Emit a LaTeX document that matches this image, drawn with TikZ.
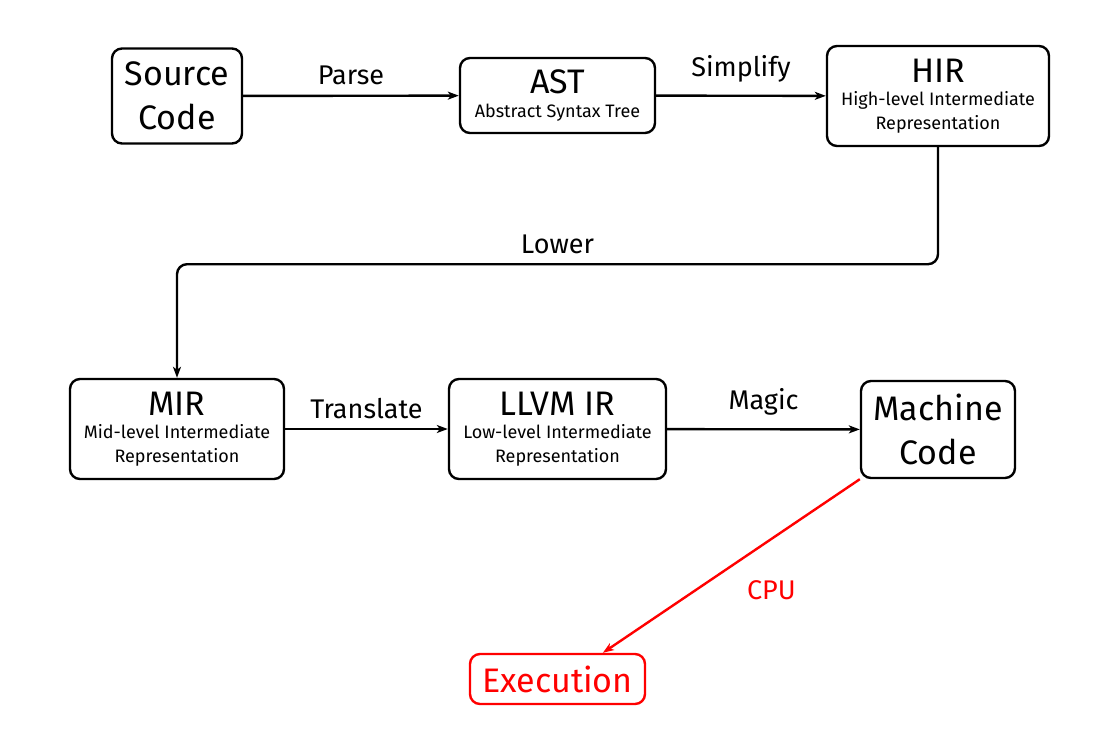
\documentclass[tikz,border=0pt]{standalone}
\usepackage{fontspec}
\setmainfont{Fira Sans}
\usetikzlibrary{arrows.meta}
\newcommand\titlesize{\fontsize{34}{44}\selectfont}
\newcommand\labelsize{\fontsize{27}{32}\selectfont}
\newcommand\subsize{\fontsize{18}{23.5}\selectfont}
\begin{document}
\begin{tikzpicture}[x=1pt, y=-1pt, line width=2.4pt,
  stage/.style={draw, rounded corners=10pt, align=center, inner sep=0pt},
  twoline/.style={stage, font=\subsize},
  flow/.style={-{Stealth[length=11pt, width=8pt, inset=3pt]}},
  lbl/.style={font=\labelsize}]
  \useasboundingbox (0, 0) rectangle (1111, 737);
  % The compiler stages.
  \node[stage, minimum width=130pt, minimum height=95pt, font=\titlesize]
    (src) at (177, 96) {Source\\Code};
  \node[twoline, minimum width=195pt, minimum height=75pt]
    (ast) at (557.5, 95.5) {{\titlesize AST}\\Abstract Syntax Tree};
  \node[twoline, minimum width=222pt, minimum height=100pt]
    (hir) at (938, 96) {{\titlesize HIR}\\High-level Intermediate\\Representation};
  \node[twoline, minimum width=214pt, minimum height=100pt]
    (mir) at (177, 429) {{\titlesize MIR}\\Mid-level Intermediate\\Representation};
  \node[twoline, minimum width=217pt, minimum height=100pt]
    (llvm) at (557.5, 429) {{\titlesize LLVM IR}\\Low-level Intermediate\\Representation};
  \node[stage, minimum width=154pt, minimum height=97pt, font=\titlesize]
    (mach) at (938, 429.5) {Machine\\Code};
  \node[stage, red, minimum width=175pt, minimum height=50pt, font=\titlesize]
    (exec) at (557.5, 679) {Execution};
  % Connect the stages.
  \draw[flow] (src) -- node[lbl, midway, above=6pt] {Parse} (ast);
  \draw[flow] (ast) -- node[lbl, midway, above=9pt] {Simplify} (hir);
  \draw[flow, rounded corners=10pt] (hir.south) -- ++(0, 117)
    -| node[lbl, pos=0.25, above=6pt] {Lower} (mir.north);
  \draw[flow] (mir) -- node[lbl, midway, above=6pt] {Translate} (llvm);
  \draw[flow] (llvm) -- node[lbl, midway, above=9pt] {Magic} (mach);
  \draw[flow, red] (mach.south west) -- node[lbl, midway, xshift=40pt, yshift=-24pt] {CPU} (exec.30);
\end{tikzpicture}
\end{document}
